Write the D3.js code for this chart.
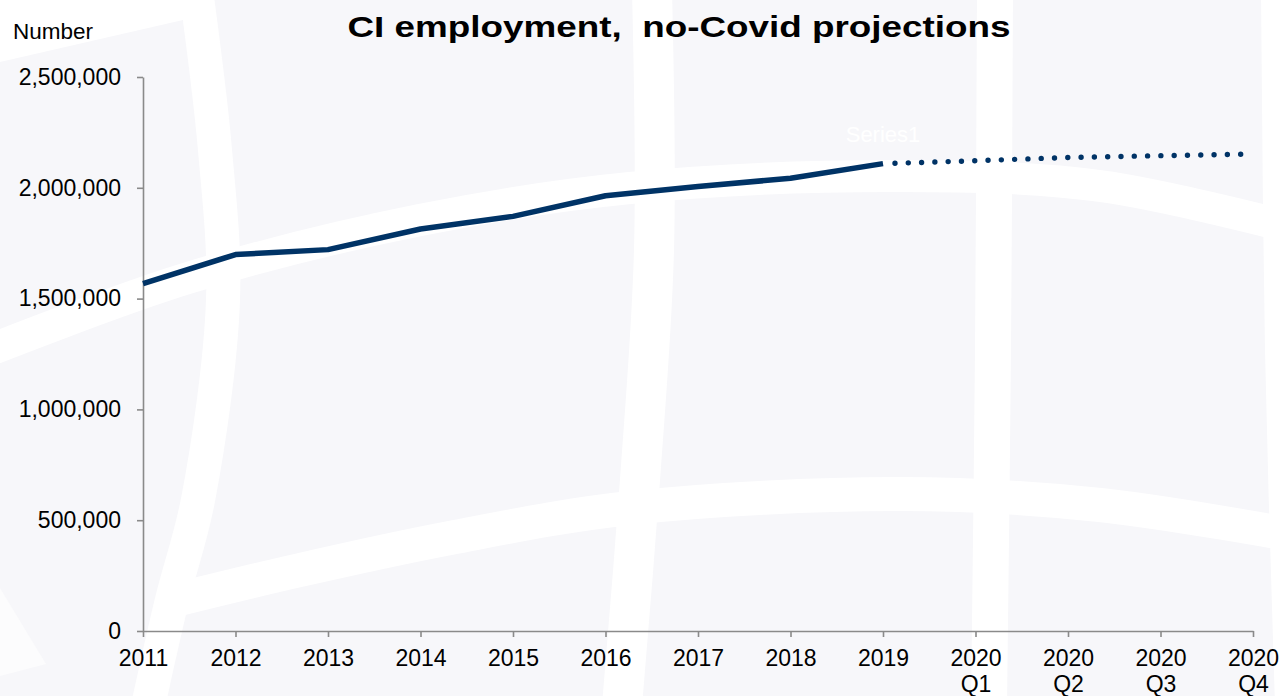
<!DOCTYPE html>
<html>
<head>
<meta charset="utf-8">
<script src="https://cdn.jsdelivr.net/npm/d3@7"></script>
<style>
html,body{margin:0;padding:0;background:#f7f7fa;}
svg{display:block;font-family:"Liberation Sans",Arial,sans-serif;}
</style>
</head>
<body>
<svg id="chart" width="1283" height="696"></svg>
<script>
// ---- data ----
const categories = ["2011","2012","2013","2014","2015","2016","2017","2018","2019","2020\nQ1","2020\nQ2","2020\nQ3","2020\nQ4"];
const actualValues = [1568000,1699000,1721000,1814000,1871000,1964000,2006000,2043000,2109000];
const projectedValues = [2109000,2122000,2137000,2145000,2152000];
const yTicks = [0,500000,1000000,1500000,2000000,2500000];
const titleText = "CI employment,  no-Covid projections";
const yUnitText = "Number";
const seriesName = "Series1";

const W = 1283, H = 696;
const svg = d3.select("#chart");

// ---- decorative background ----
const bg = svg.append("g");
bg.append("rect").attr("width",W).attr("height",H).attr("fill","#f7f7fa");
const deco = d3.line().curve(d3.curveCatmullRom);
const bands = [
  {pts:[[196,-10],[215,150],[223,300],[198,500],[172,600],[148,706]], w:34},
  {pts:[[652,-10],[654,250],[640,480],[622,706]], w:40},
  {pts:[[995,-10],[993,350],[989,706]], w:36},
  {pts:[[1276,-10],[1280,350],[1290,706]], w:30},
  {pts:[[-10,350],[188,278],[420,220],[630,188],[900,176],[1100,186],[1293,228]], w:32},
  {pts:[[175,600],[300,570],[450,538],[630,508],[900,494],[1100,505],[1293,535]], w:34}
];
bands.forEach(b => bg.append("path").attr("d",deco(b.pts)).attr("fill","none")
  .attr("stroke","#ffffff").attr("stroke-width",b.w));
bg.append("path").attr("d","M0,0L192,0L183,20L0,62Z").attr("fill","#ffffff");
bg.append("path").attr("d","M0,588L46,664L0,676Z").attr("fill","#fcfcfd");

// ---- scales ----
const x = d3.scalePoint().domain(categories).range([143,1253]);
const y = d3.scaleLinear().domain([0,2500000]).range([631,77]);

// ---- axes ----
const axisColor = "#8a8a8a";
const yAxis = svg.append("g").attr("transform","translate(143,0)")
  .call(d3.axisLeft(y).tickValues(yTicks).tickSize(6).tickSizeOuter(0).tickPadding(16).tickFormat(d3.format(",")));
const xAxis = svg.append("g").attr("transform","translate(0,631)")
  .call(d3.axisBottom(x).tickSize(6).tickSizeOuter(0).tickPadding(10));

[yAxis,xAxis].forEach(g=>{
  g.select(".domain").attr("stroke",axisColor).attr("stroke-width",1.6);
  g.selectAll(".tick line").attr("stroke",axisColor).attr("stroke-width",1.6);
  g.selectAll(".tick text").attr("fill","#000").attr("font-size",23)
    .attr("font-family","\"Liberation Sans\",Arial,sans-serif");
});
xAxis.selectAll(".tick text").each(function(d){
  const t = d3.select(this);
  t.text(null).attr("y",0).attr("dy",null);
  d.split("\n").forEach((line,i)=>{
    t.append("tspan").attr("x",0).attr("y",35 + i*26).text(line);
  });
});

// ---- series ----
const line = d3.line().x(d=>x(d.c)).y(d=>y(d.v));
const actual = actualValues.map((v,i)=>({c:categories[i],v}));
const projected = projectedValues.map((v,i)=>({c:categories[i+8],v}));
svg.append("path").datum(projected).attr("d",line).attr("fill","none")
  .attr("stroke","#003366").attr("stroke-width",5.4).attr("stroke-linecap","round")
  .attr("stroke-dasharray","0,13.3").attr("stroke-dashoffset",-12);
svg.append("path").datum(actual).attr("d",line).attr("fill","none")
  .attr("stroke","#003366").attr("stroke-width",5.5).attr("stroke-linejoin","round");

// ---- text ----
svg.append("text").attr("x",679).attr("y",37).attr("text-anchor","middle")
  .attr("font-size",30).attr("font-weight","bold").attr("fill","#000")
  .attr("textLength",663).attr("lengthAdjust","spacingAndGlyphs")
  .style("white-space","pre").text(titleText);
svg.append("text").attr("x",13).attr("y",39).attr("font-size",22.5).attr("fill","#000").text(yUnitText);
svg.append("text").attr("x",883).attr("y",142).attr("text-anchor","middle")
  .attr("font-size",22).attr("fill","#ffffff").text(seriesName);
</script>
</body>
</html>
